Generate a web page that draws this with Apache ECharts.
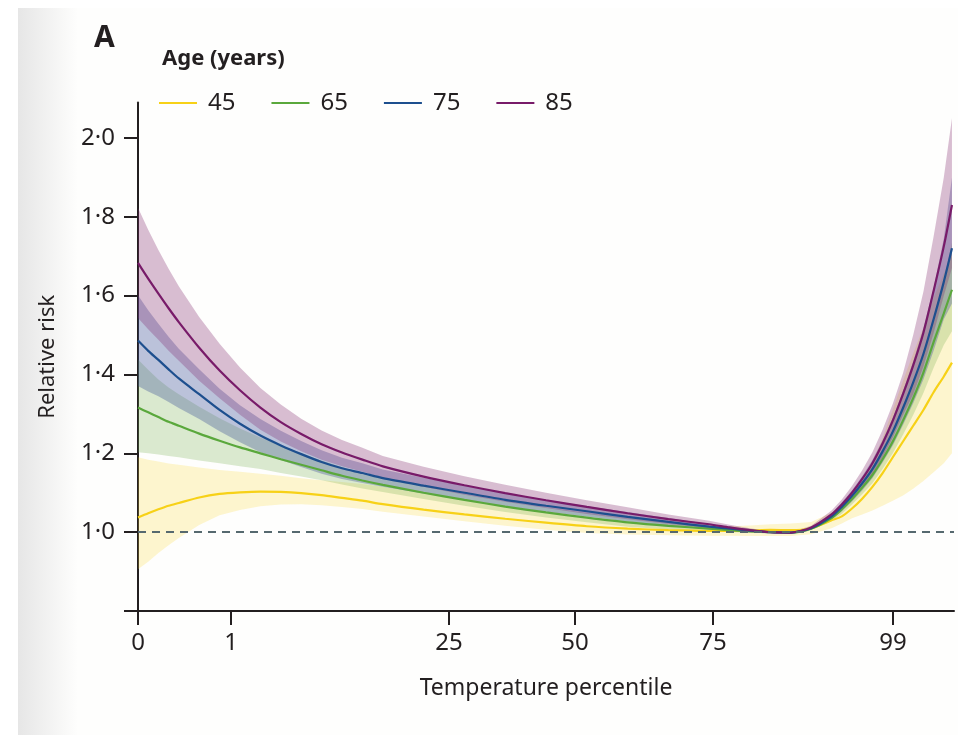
<!DOCTYPE html>
<html>
<head>
<meta charset="utf-8">
<script src="https://cdn.jsdelivr.net/npm/echarts@6/dist/echarts.min.js"></script>
<style>
html,body{margin:0;padding:0;background:#ffffff;}
#chart{width:958px;height:735px;}
</style>
</head>
<body>
<div id="chart"></div>
<script>
// ---- Data ----
const ageGroups = ['45', '65', '75', '85'];
const lineColors = ['#f7d117', '#5aa83c', '#1d4f8e', '#781b69'];
const bandColors = ['rgba(250,215,40,0.22)', 'rgba(110,170,70,0.25)', 'rgba(60,80,150,0.34)', 'rgba(130,40,110,0.30)'];

// x axis: temperature (arbitrary °C scale); tick positions of temperature percentiles
const xTickAt = [-8, -3.44, 7.25, 13.42, 20.19, 29.01];
const xTickLabels = ['0', '1', '25', '50', '75', '99'];
const yTickValues = [0.8, 1.0, 1.2, 1.4, 1.6, 1.8, 2.0];
const yLabelValues = [1.0, 1.2, 1.4, 1.6, 1.8, 2.0];

const temps = [-8,-7.5,-7,-6.5,-6,-5,-4,-3,-2,-1,0,1,2,3,4,6,8,10,12,14,16,18,20,21,22,23,24,25,26,26.5,27,27.5,28,28.5,29,29.5,30,30.5,31,31.5,31.9];

const rr45 = [1.037,1.048,1.058,1.067,1.074,1.088,1.097,1.101,1.103,1.102,1.099,1.094,1.087,1.08,1.071,1.057,1.045,1.034,1.024,1.015,1.009,1.005,1.003,1.003,1.004,1.006,1.005,1.01,1.03,1.04,1.06,1.085,1.115,1.15,1.19,1.23,1.27,1.31,1.355,1.395,1.43];
const lo45 = [0.906,0.925,0.947,0.967,0.985,1.018,1.043,1.056,1.066,1.070,1.071,1.068,1.064,1.059,1.052,1.040,1.028,1.016,1.006,0.998,0.994,0.992,0.991,0.991,0.99,0.99,0.99,0.995,1.01,1.022,1.035,1.045,1.055,1.067,1.08,1.093,1.11,1.13,1.152,1.175,1.2];
const hi45 = [1.19,1.184,1.179,1.174,1.171,1.164,1.158,1.153,1.148,1.143,1.137,1.132,1.127,1.122,1.115,1.098,1.082,1.066,1.05,1.036,1.026,1.02,1.016,1.015,1.017,1.02,1.022,1.026,1.05,1.058,1.086,1.127,1.178,1.239,1.311,1.384,1.453,1.519,1.594,1.656,1.704];

const rr65 = [1.316,1.304,1.292,1.28,1.27,1.25,1.232,1.215,1.20,1.185,1.171,1.157,1.143,1.131,1.12,1.10,1.082,1.065,1.05,1.037,1.025,1.016,1.009,1.005,1.002,1.0,0.999,1.009,1.036,1.058,1.084,1.113,1.145,1.185,1.23,1.283,1.34,1.405,1.482,1.555,1.615];
const lo65 = [1.203,1.2,1.197,1.193,1.19,1.182,1.175,1.167,1.16,1.15,1.141,1.132,1.121,1.111,1.102,1.084,1.067,1.051,1.037,1.025,1.014,1.007,1.003,1.0,0.999,0.998,0.998,1.006,1.028,1.047,1.07,1.096,1.124,1.16,1.2,1.247,1.297,1.353,1.417,1.475,1.51];
const hi65 = [1.438,1.412,1.387,1.367,1.35,1.318,1.289,1.263,1.24,1.22,1.201,1.182,1.165,1.151,1.138,1.116,1.097,1.079,1.063,1.049,1.036,1.025,1.015,1.01,1.005,1.002,1.0,1.012,1.044,1.069,1.098,1.13,1.166,1.21,1.26,1.319,1.383,1.457,1.547,1.64,1.735];

const rr75 = [1.486,1.46,1.437,1.413,1.39,1.35,1.31,1.275,1.245,1.22,1.198,1.178,1.162,1.15,1.137,1.118,1.10,1.082,1.067,1.053,1.039,1.026,1.014,1.009,1.004,1.0,0.999,1.01,1.04,1.064,1.092,1.124,1.16,1.205,1.255,1.315,1.38,1.452,1.54,1.635,1.72];
const lo75 = [1.371,1.357,1.345,1.33,1.315,1.287,1.256,1.228,1.203,1.183,1.165,1.148,1.135,1.125,1.115,1.098,1.082,1.065,1.052,1.04,1.027,1.016,1.007,1.004,1.0,0.998,0.998,1.007,1.032,1.053,1.078,1.106,1.137,1.177,1.22,1.272,1.327,1.387,1.46,1.54,1.58];
const hi75 = [1.601,1.563,1.529,1.496,1.465,1.413,1.364,1.322,1.287,1.257,1.231,1.208,1.189,1.175,1.159,1.138,1.118,1.099,1.082,1.066,1.051,1.036,1.021,1.014,1.008,1.002,1.0,1.013,1.048,1.075,1.106,1.142,1.183,1.233,1.29,1.358,1.433,1.517,1.62,1.745,1.90];

const rr85 = [1.683,1.643,1.605,1.568,1.533,1.468,1.41,1.36,1.316,1.279,1.249,1.223,1.202,1.184,1.167,1.141,1.119,1.099,1.081,1.064,1.048,1.033,1.02,1.012,1.005,1.0,0.999,1.012,1.045,1.07,1.10,1.135,1.175,1.225,1.283,1.35,1.423,1.506,1.612,1.725,1.83];
const lo85 = [1.543,1.515,1.488,1.46,1.435,1.384,1.34,1.298,1.26,1.23,1.205,1.184,1.167,1.153,1.138,1.115,1.095,1.077,1.061,1.046,1.033,1.021,1.011,1.005,1.0,0.998,0.998,1.008,1.035,1.057,1.083,1.113,1.147,1.19,1.24,1.297,1.35,1.42,1.505,1.6,1.67];
const hi85 = [1.823,1.767,1.716,1.668,1.624,1.546,1.478,1.418,1.366,1.324,1.288,1.258,1.234,1.214,1.193,1.166,1.142,1.12,1.1,1.081,1.063,1.045,1.029,1.019,1.01,1.002,1.0,1.016,1.055,1.083,1.117,1.157,1.203,1.26,1.326,1.403,1.50,1.61,1.75,1.90,2.05];

const lines = [rr45, rr65, rr75, rr85];
const lows = [lo45, lo65, lo75, lo85];
const highs = [hi45, hi65, hi75, hi85];

// ---- Chart ----
const FONT = 'Noto Sans';
const INK = '#231f20';
const BG = '#fefefd';

function bandRenderer(lo, hi, color) {
  return function (params, api) {
    const pts = [];
    for (let i = 0; i < temps.length; i++) pts.push(api.coord([temps[i], hi[i]]));
    for (let i = temps.length - 1; i >= 0; i--) pts.push(api.coord([temps[i], lo[i]]));
    return { type: 'polygon', shape: { points: pts }, style: { fill: color }, silent: true };
  };
}

const series = [];
ageGroups.forEach((a, k) => {
  series.push({
    type: 'custom', name: 'band' + a, z: 1 + k * 0.01, silent: true,
    data: [[temps[0], lines[k][0]]],
    renderItem: bandRenderer(lows[k], highs[k], bandColors[k])
  });
});
ageGroups.forEach((a, k) => {
  const s = {
    type: 'line', name: a, z: 3 + k * 0.01,
    data: temps.map((t, i) => [t, lines[k][i]]),
    showSymbol: false, symbol: 'none', smooth: 0.25,
    lineStyle: { color: lineColors[k], width: 2.2 },
    itemStyle: { color: lineColors[k] },
    silent: true
  };
  if (k === 0) {
    s.markLine = {
      silent: true, symbol: 'none', z: 10,
      label: { show: false },
      lineStyle: { type: [8, 6], color: '#56696f', width: 2 },
      data: [{ yAxis: 1.0 }]
    };
  }
  series.push(s);
});

const chart = echarts.init(document.getElementById('chart'), null, { renderer: 'canvas' });
chart.setOption({
  animation: false,
  backgroundColor: '#ffffff',
  textStyle: { fontFamily: FONT },
  graphic: [
    { type: 'rect', z: -10, shape: { x: 18, y: 8, width: 940, height: 727 }, style: { fill: BG } },
    { type: 'rect', z: -9, shape: { x: 18, y: 8, width: 60, height: 727 },
      style: { fill: new echarts.graphic.LinearGradient(0, 0, 1, 0, [
        { offset: 0, color: '#e6e6e6' }, { offset: 1, color: BG }]) } },
    { type: 'text', z: 5, left: 94, top: 23,
      style: { text: 'A', font: 'bold 30px "Noto Sans"', fill: INK } },
    { type: 'text', z: 5, left: 162, top: 48,
      style: { text: 'Age (years)', font: 'bold 22px "Noto Sans"', fill: INK } }
  ],
  legend: {
    data: ageGroups,
    left: 159, top: 91, padding: 0,
    icon: 'rect', itemWidth: 38, itemHeight: 2, itemGap: 36,
    textStyle: { fontFamily: FONT, fontSize: 24, color: INK, padding: [0, 0, 0, 6] },
    selectedMode: false
  },
  grid: { left: 138, right: 4, top: 102.5, bottom: 124, containLabel: false, outerBoundsMode: 'none' },
  xAxis: {
    type: 'value', min: -8, max: 32,
    name: 'Temperature percentile', nameLocation: 'middle', nameGap: 66,
    nameTextStyle: { fontFamily: FONT, fontSize: 23, color: INK },
    axisLine: { show: true, onZero: false, lineStyle: { color: INK, width: 2 } },
    axisTick: { show: true, length: 14, lineStyle: { color: INK, width: 2 }, customValues: xTickAt },
    axisLabel: {
      customValues: xTickAt, margin: 20, fontFamily: FONT, fontSize: 24, color: INK,
      formatter: function (v) {
        let best = 0, d = Infinity;
        xTickAt.forEach((t, i) => { if (Math.abs(t - v) < d) { d = Math.abs(t - v); best = i; } });
        return xTickLabels[best];
      }
    },
    splitLine: { show: false }
  },
  yAxis: {
    type: 'value', min: 0.8, max: 2.09,
    name: 'Relative risk', nameLocation: 'middle', nameGap: 79, nameRotate: 90,
    nameTextStyle: { fontFamily: FONT, fontSize: 22, color: INK },
    axisLine: { show: true, onZero: false, lineStyle: { color: INK, width: 2 } },
    axisTick: { show: true, length: 14, lineStyle: { color: INK, width: 2 }, customValues: yTickValues },
    axisLabel: {
      customValues: yLabelValues, margin: 23, fontFamily: FONT, fontSize: 24, color: INK,
      formatter: function (v) { return v.toFixed(1).replace('.', '\u00b7'); }
    },
    splitLine: { show: false }
  },
  series: series
});
</script>
</body>
</html>
